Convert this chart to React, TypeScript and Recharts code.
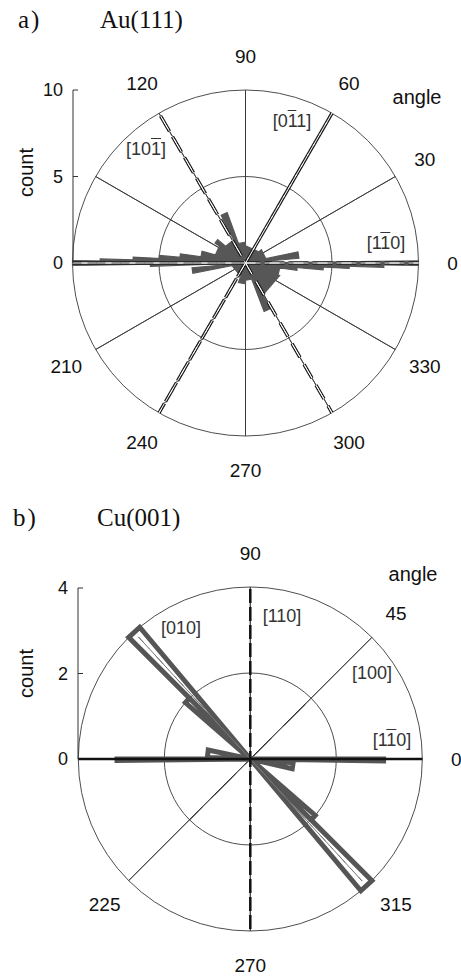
import React from 'react';
import { RadarChart, Radar, PolarGrid, PolarAngleAxis, PolarRadiusAxis, LineChart, Line, XAxis, YAxis } from 'recharts';

const SANS = '"Liberation Sans", Arial, sans-serif';
const SERIF = '"Liberation Serif", "Times New Roman", serif';

// ---------- Panel a) Au(111) : rose histogram bins [from, to] (deg) and counts ----------
const auBinFrom = [0, 0.7, 5, 12, 40, 90, 110, 117, 140, 147, 165, 172, 175, 177, 178.4, 179.2, 180.8, 185, 191, 250, 270, 291, 299, 340, 352, 355, 357, 358.2, 359.2];
const auBinTo = [0.7, 5, 12, 40, 90, 110, 117, 140, 147, 165, 172, 175, 177, 178.4, 179.2, 180.8, 182, 191, 250, 270, 291, 299, 340, 352, 355, 357, 358.2, 359.2, 360];
const auCounts = [10, 1.5, 3.1, 1.2, 1.0, 1.2, 3.1, 1.5, 2.1, 1.8, 2.6, 3.8, 5, 6.5, 8.4, 10, 5.5, 3.1, 0.8, 1.2, 1.0, 3.0, 2.1, 2.0, 3.0, 4.5, 6, 8, 10];
const auRadiusTicks = [0, 5, 10];
const auAngleTicks = [0, 30, 60, 90, 120, 210, 240, 270, 300, 330];
const auSpokeAngles = [30, 60, 120, 150, 210, 240, 300, 330];
const auDiameters = [0, 90];
const auDirections = [0, 60, 120];

// ---------- Panel b) Cu(001) ----------
const cuBinFrom = [130, 135, 168, 180, 310, 315, 347, 359.2];
const cuBinTo = [135, 139, 178, 180.6, 315, 319, 355, 360];
const cuCounts = [4, 2, 1, 3.1, 4, 2, 1, 3.1];
const cuRadiusTicks = [0, 2, 4];
const cuAngleTicks = [0, 45, 90, 225, 270, 315];
const cuSpokeAngles = [45, 135, 225, 315];
const cuDiameters = [0, 90];
const cuMainDirections = [0, 90];
const cuMinorDirections = [45];
const cuBinAxes = [132.5];

type Row = { angle: number; [k: string]: number | undefined };

function buildTable(p: {
  from: number[]; to: number[]; counts: number[];
  inner: number; outer: number;
  spokes: number[]; diameters: number[];
  dirs: number[]; minor: number[]; binAxes: number[]; binAxisR: number;
}): Row[] {
  const rows: Row[] = [];
  p.from.forEach((a0, i) => {
    const a1 = p.to[i];
    const c = p.counts[i];
    rows.push({ angle: a0, rose: 0 }, { angle: a0, rose: c }, { angle: a1, rose: c }, { angle: a1, rose: 0 });
  });
  rows.push({ angle: 0 });
  p.spokes.forEach((a) => {
    rows.push({ angle: a, spoke: p.inner }, { angle: a, spoke: p.outer }, { angle: 0 });
  });
  p.diameters.forEach((a) => {
    rows.push({ angle: a, diam: p.outer }, { angle: a + 180, diam: p.outer }, { angle: 0 });
  });
  p.dirs.forEach((a) => {
    rows.push({ angle: a, dir: p.outer }, { angle: a + 180, dir: p.outer }, { angle: 0 });
  });
  p.minor.forEach((a) => {
    rows.push({ angle: a, minor: p.inner }, { angle: a + 180, minor: p.inner }, { angle: 0 });
  });
  p.binAxes.forEach((a) => {
    rows.push({ angle: a, binAxis: p.binAxisR }, { angle: a + 180, binAxis: p.binAxisR }, { angle: 0 });
  });
  rows.push({ angle: 0 });
  return rows;
}

const auTable = buildTable({
  from: auBinFrom, to: auBinTo, counts: auCounts, inner: 5, outer: 10,
  spokes: auSpokeAngles, diameters: auDiameters, dirs: auDirections, minor: [], binAxes: [], binAxisR: 0,
});
const cuTable = buildTable({
  from: cuBinFrom, to: cuBinTo, counts: cuCounts, inner: 2, outer: 4,
  spokes: cuSpokeAngles, diameters: cuDiameters, dirs: cuMainDirections, minor: cuMinorDirections, binAxes: cuBinAxes, binAxisR: 3.85,
});

const AngleTick = (props: any) => (
  <text x={props.x} y={props.y} textAnchor="middle" dominantBaseline="central" fontSize={19} fontFamily={SANS} fill="#111">
    {props.payload.value}
  </text>
);

const CountTick = (props: any) => {
  const { x, y, payload } = props;
  return (
    <g>
      <text x={x - 10} y={y} textAnchor="end" dominantBaseline="central" fontSize={18} fontFamily={SANS} fill="#111">
        {payload.value}
      </text>
      {payload.value > 0 && <line x1={x} y1={y} x2={x + 5} y2={y} stroke="#333" strokeWidth={1} />}
    </g>
  );
};

const makeCountLabel = (dy: number) => (props: any) => {
  const vb = props.viewBox || { x: 0, y: 0, width: 0, height: 0 };
  const lx = vb.x + 26;
  const ly = vb.y + vb.height / 2 + dy;
  return (
    <text x={lx} y={ly} transform={`rotate(-90 ${lx} ${ly})`} textAnchor="middle" dominantBaseline="central" fontSize={20} fontFamily={SANS} fill="#111">
      count
    </text>
  );
};

const auCountRange = [{ i: 0, v: 0 }, { i: 1, v: 10 }];
const cuCountRange = [{ i: 0, v: 0 }, { i: 1, v: 4 }];

function Label({ x, y, text, size = 18, color = '#333' }: { x: number; y: number; text: string; size?: number; color?: string }) {
  const parts = text.split(/(\{[^}]*\})/).filter((s) => s.length > 0);
  return (
    <div style={{ position: 'absolute', left: x, top: y, transform: 'translate(-50%, -50%)', fontFamily: SANS, fontSize: size, lineHeight: 1, color, whiteSpace: 'nowrap' }}>
      {parts.map((s, i) =>
        s.startsWith('{') ? (
          <span key={i} style={{ textDecoration: 'overline' }}>{s.slice(1, -1)}</span>
        ) : (
          <span key={i}>{s}</span>
        )
      )}
    </div>
  );
}

function Title({ x, y, text, spacing = 0 }: { x: number; y: number; text: string; spacing?: number }) {
  return (
    <div style={{ position: 'absolute', left: x, top: y, fontFamily: SERIF, fontSize: 25, lineHeight: 1, color: '#111', whiteSpace: 'nowrap', letterSpacing: spacing }}>
      {text}
    </div>
  );
}

function CountAxis({ data, domain, ticks, top, bottom, width, dy }: { data: any[]; domain: [number, number]; ticks: number[]; top: number; bottom: number; width: number; dy: number }) {
  return (
    <LineChart width={100} height={300} data={data} margin={{ top, right: 0, bottom, left: 0 }}>
      <XAxis dataKey="i" hide />
      <YAxis type="number" domain={domain} ticks={ticks} interval={0} width={width} axisLine={{ stroke: '#333', strokeWidth: 1 }} tickLine={false} tickSize={0} tickMargin={0} tick={CountTick} label={makeCountLabel(dy)} />
      <Line dataKey="v" stroke="none" dot={false} activeDot={false} isAnimationActive={false} />
    </LineChart>
  );
}

export default function App() {
  return (
    <div style={{ position: 'absolute', left: 0, top: 0, width: 461, height: 977, background: '#fff', overflow: 'hidden' }}>
      {/* ---------- Panel a ---------- */}
      <div style={{ position: 'absolute', left: 0, top: 0, width: 461, height: 480 }}>
        <RadarChart width={461} height={480} data={auTable} cx={245.5} cy={263} outerRadius={173} startAngle={0} endAngle={360} margin={{ top: 0, right: 0, bottom: 0, left: 0 }}>
          <PolarGrid gridType="circle" radialLines={false} stroke="#3a3a3a" strokeWidth={0.9} />
          <PolarAngleAxis dataKey="angle" type="number" domain={[0, 360]} ticks={auAngleTicks} axisLine={false} tickLine={false} tickSize={34} tick={AngleTick} />
          <PolarRadiusAxis type="number" domain={[0, 10]} ticks={auRadiusTicks} tick={false} axisLine={false} />
          <Radar dataKey="spoke" stroke="#3a3a3a" strokeWidth={0.9} fill="none" dot={false} isAnimationActive={false} />
          <Radar dataKey="diam" stroke="#3a3a3a" strokeWidth={0.9} fill="none" dot={false} isAnimationActive={false} />
          <Radar dataKey="rose" stroke="#575757" strokeWidth={1.2} fill="#575757" fillOpacity={1} dot={false} isAnimationActive={false} />
          <Radar dataKey="dir" stroke="#1e1e1e" strokeWidth={3.4} strokeDasharray="15 9" fill="none" dot={false} isAnimationActive={false} />
          <Radar dataKey="dir" stroke="#ffffff" strokeWidth={1} strokeDasharray="15 9" fill="none" dot={false} isAnimationActive={false} />
        </RadarChart>
        <div style={{ position: 'absolute', left: 0, top: 0 }}>
          <CountAxis data={auCountRange} domain={[0, 10]} ticks={auRadiusTicks} top={90} bottom={37} width={73} dy={-4} />
        </div>
        <Title x={18} y={7} text="a)" spacing={2} />
        <Title x={100} y={7} text="Au(111)" />
        <Label x={417} y={97} text="angle" size={20} color="#111" />
        <Label x={292} y={121} text="[0{1}1]" />
        <Label x={146} y={149} text="[10{1}]" />
        <Label x={386} y={243} text="[1{1}0]" />
      </div>

      {/* ---------- Panel b ---------- */}
      <div style={{ position: 'absolute', left: 0, top: 480, width: 461, height: 497 }}>
        <RadarChart width={461} height={497} data={cuTable} cx={250.3} cy={279} outerRadius={172} startAngle={0} endAngle={360} margin={{ top: 0, right: 0, bottom: 0, left: 0 }}>
          <PolarGrid gridType="circle" radialLines={false} stroke="#3a3a3a" strokeWidth={0.9} />
          <PolarAngleAxis dataKey="angle" type="number" domain={[0, 360]} ticks={cuAngleTicks} axisLine={false} tickLine={false} tickSize={34} tick={AngleTick} />
          <PolarRadiusAxis type="number" domain={[0, 4]} ticks={cuRadiusTicks} tick={false} axisLine={false} />
          <Radar dataKey="spoke" stroke="#3a3a3a" strokeWidth={0.9} fill="none" dot={false} isAnimationActive={false} />
          <Radar dataKey="diam" stroke="#3a3a3a" strokeWidth={0.9} fill="none" dot={false} isAnimationActive={false} />
          <Radar dataKey="minor" stroke="#333" strokeWidth={1} strokeDasharray="30 18" fill="none" dot={false} isAnimationActive={false} />
          <Radar dataKey="rose" stroke="#555" strokeWidth={5} fill="none" dot={false} isAnimationActive={false} />
          <Radar dataKey="binAxis" stroke="#777" strokeWidth={1} strokeDasharray="22 8" fill="none" dot={false} isAnimationActive={false} />
          <Radar dataKey="dir" stroke="#111" strokeWidth={2.5} strokeDasharray="12 6" fill="none" dot={false} isAnimationActive={false} />
        </RadarChart>
        <div style={{ position: 'absolute', left: 0, top: 0 }}>
          <CountAxis data={cuCountRange} domain={[0, 4]} ticks={cuRadiusTicks} top={108} bottom={21} width={78} dy={0} />
        </div>
        <Title x={13} y={25} text="b)" spacing={2} />
        <Title x={97} y={25} text="Cu(001)" />
        <Label x={413} y={94} text="angle" size={20} color="#111" />
        <Label x={282} y={136} text="[110]" />
        <Label x={181} y={148} text="[010]" />
        <Label x={372} y={193} text="[100]" />
        <Label x={392} y={260} text="[1{1}0]" />
      </div>
    </div>
  );
}
